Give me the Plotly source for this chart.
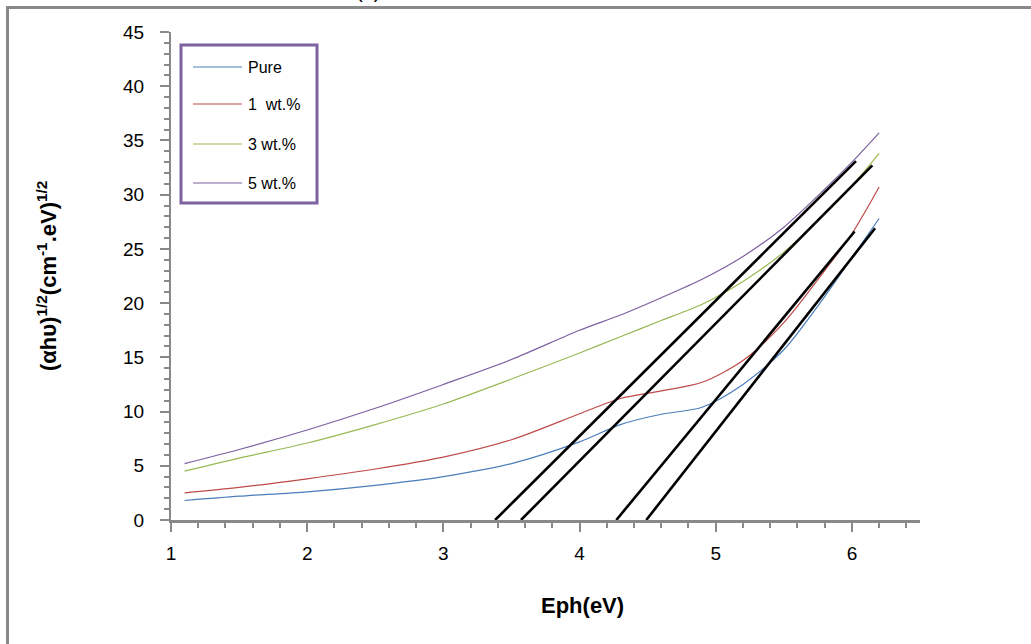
import plotly.graph_objects as go

# ---- data ----
energy = [1.1, 1.5, 2.0, 2.5, 3.0, 3.5, 4.0, 4.3, 4.6, 4.9, 5.2, 5.5, 5.8, 6.0, 6.2]
pure = [1.8, 2.2, 2.6, 3.2, 4.0, 5.2, 7.2, 8.8, 9.75, 10.4, 12.5, 15.7, 20.6, 24.2, 27.8]
wt1 = [2.5, 3.0, 3.8, 4.7, 5.8, 7.4, 9.8, 11.2, 11.9, 12.7, 14.7, 18.2, 23.0, 26.4, 30.7]
wt3 = [4.5, 5.7, 7.1, 8.8, 10.7, 13.0, 15.4, 16.9, 18.4, 19.9, 22.0, 24.7, 28.2, 30.8, 33.8]
wt5 = [5.2, 6.5, 8.3, 10.3, 12.5, 14.8, 17.5, 18.9, 20.5, 22.2, 24.3, 27.0, 30.5, 33.0, 35.7]

series_names = ["Pure", "1  wt.%", "3 wt.%", "5 wt.%"]
series_values = [pure, wt1, wt3, wt5]
series_colors = ["#4A7EBB", "#BE4B48", "#98B954", "#7D60A0"]

# linear extrapolation lines (band gap): x-intercept, end x, end y
fit_x0 = [4.49, 4.27, 3.57, 3.38]
fit_x1 = [6.17, 6.02, 6.15, 6.03]
fit_y1 = [26.9, 26.6, 32.7, 33.1]

# ---- layout geometry (pixels) ----
W, H = 1031, 644
ML, MR, MT, MB = 171, 111, 32, 124
PW, PH = W - ML - MR, H - MT - MB


def px_x(p):
    return (p - ML) / PW


def px_y(p):
    return (H - MB - p) / PH


FONT = "Liberation Sans Narrow, Arial Narrow, Liberation Sans, Arial, sans-serif"
GREY = "#898989"

fig = go.Figure()
for name, vals, col in zip(series_names, series_values, series_colors):
    fig.add_trace(go.Scatter(
        x=energy, y=vals, mode="lines", name=name, showlegend=False,
        line=dict(color=col, width=1.2, shape="spline", smoothing=0.8),
    ))

for x0, x1, y1 in zip(fit_x0, fit_x1, fit_y1):
    fig.add_trace(go.Scatter(
        x=[x0, x1], y=[0, y1], mode="lines", showlegend=False,
        line=dict(color="black", width=2.6),
    ))

fig.update_layout(
    width=W, height=H,
    margin=dict(l=ML, r=MR, t=MT, b=MB, pad=0, autoexpand=False),
    paper_bgcolor="white", plot_bgcolor="white",
    font=dict(family=FONT, color="black"),
    showlegend=False,
)

fig.update_xaxes(
    range=[1, 6.5], showgrid=False, zeroline=False, automargin=False,
    showline=True, linecolor=GREY, linewidth=3,
    ticks="outside", tickcolor=GREY, ticklen=9, tickwidth=2,
    dtick=1, tick0=1, ticklabelstandoff=5,
    tickfont=dict(size=19, family=FONT, color="black"),
    minor=dict(dtick=0.2, ticks="outside", ticklen=5, tickcolor=GREY, tickwidth=2),
)
fig.update_yaxes(
    range=[0, 45], showgrid=False, zeroline=False, automargin=False,
    showline=True, linecolor=GREY, linewidth=2,
    ticks="outside", tickcolor=GREY, ticklen=9, tickwidth=2,
    dtick=5, tick0=0, ticklabelstandoff=12,
    tickfont=dict(size=19, family=FONT, color="black"),
    minor=dict(dtick=1, ticks="outside", ticklen=5, tickcolor=GREY, tickwidth=2),
)

# y-axis title
fig.add_annotation(
    text="<b>(αhυ)<sup>1/2</sup>(cm<sup>-1</sup>.eV)<sup>1/2</sup></b>",
    xref="paper", yref="paper", x=px_x(47), y=px_y(276),
    xanchor="center", yanchor="middle", textangle=-90, showarrow=False,
    font=dict(size=22, family=FONT, color="black"),
)
# x-axis title
fig.add_annotation(
    text="<b>Eph(eV)</b>", xref="paper", yref="paper",
    x=px_x(582), y=px_y(605), xanchor="center", yanchor="middle",
    showarrow=False, font=dict(size=22, family=FONT, color="black"),
)
# panel label, cropped at the top in the reference
fig.add_annotation(
    text="(a)", xref="paper", yref="paper",
    x=px_x(368), y=px_y(4), xanchor="center", yanchor="bottom",
    showarrow=False, font=dict(size=20, family=FONT, color="black"),
)

# manual legend box
fig.add_shape(
    type="rect", xref="paper", yref="paper",
    x0=px_x(181), x1=px_x(317), y0=px_y(203), y1=px_y(45),
    line=dict(color="#7F63A1", width=3), fillcolor="white", layer="above",
)
legend_rows = [67, 104, 144, 183]
for name, col, ry in zip(series_names, series_colors, legend_rows):
    fig.add_shape(
        type="line", xref="paper", yref="paper",
        x0=px_x(193), x1=px_x(242), y0=px_y(ry), y1=px_y(ry),
        line=dict(color=col, width=1.2), layer="above",
    )
    fig.add_annotation(
        text=name, xref="paper", yref="paper", x=px_x(246), y=px_y(ry),
        xanchor="left", yanchor="middle", showarrow=False,
        font=dict(size=16, family=FONT, color="black"),
    )

# outer figure frame (partially cropped in the reference)
fig.add_shape(
    type="path", xref="paper", yref="paper",
    path=f"M {px_x(7.5)},{px_y(660)} L {px_x(7.5)},{px_y(7.5)} L {px_x(1040)},{px_y(7.5)}",
    line=dict(color=GREY, width=3),
)

fig.write_html(
    "out.html",
    config={"displayModeBar": False},
    post_script="document.body.style.margin='0px';",
)
